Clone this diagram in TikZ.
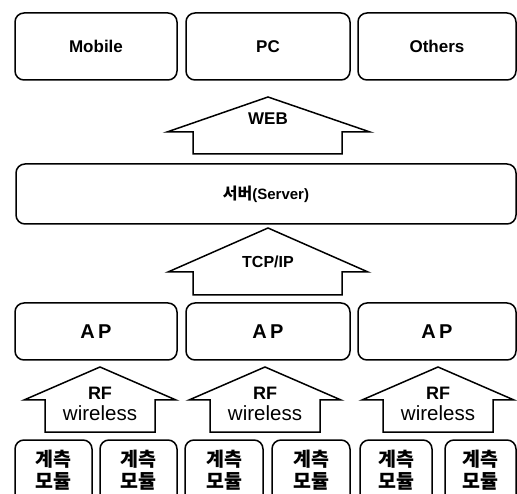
\documentclass[tikz,border=0pt]{standalone}
\usepackage{fontspec}
\setmainfont{Liberation Sans}
\newfontfamily\kr{Noto Sans CJK KR}

\begin{document}
\begin{tikzpicture}[x=1pt,y=-1pt,
  box/.style={draw,line width=1.5pt,rounded corners=9pt,inner sep=0pt},
  blk/.style={draw,line width=1.5pt,line join=miter},
  lab/.style={font=\fontsize{17}{20}\selectfont\bfseries},
  rftext/.style={align=center,inner sep=0pt,font=\fontsize{20.5}{21}\selectfont},
  modtext/.style={align=center,inner sep=0pt,font=\fontsize{19.5}{22}\selectfont\kr\bfseries}]

\useasboundingbox (0,0) rectangle (517,494);
\clip (0,0) rectangle (517,494);

% clients
\node[box,lab,minimum width=162,minimum height=67] (mobile) at (96,46.5) {Mobile};
\node[box,lab,minimum width=164,minimum height=67] (pc) at (268,46.5) {PC};
\node[box,lab,minimum width=158,minimum height=67] (others) at (437,46.5) {Others};

\draw[blk] (268,97) -- (370,132) -- (342,132) -- (342,154) -- (193,154) -- (193,132) -- (167,132) -- cycle;
\node[lab] (web) at (268,119) {WEB};

% server
\node[box,minimum width=500,minimum height=60,font=\fontsize{15}{18}\selectfont\bfseries] (server) at (266,194) {{\kr\fontsize{16}{18}\selectfont 서버}(Server)};

\draw[blk] (268,228) -- (368,272) -- (342,272) -- (342,295) -- (193,295) -- (193,272) -- (168,272) -- cycle;
\node[lab,font=\fontsize{16}{20}\selectfont\bfseries] (tcp) at (268,262) {TCP/IP};

% access points
\node[box,lab,minimum width=162,minimum height=57,font=\fontsize{20}{24}\selectfont\bfseries] (ap1) at (96,331.5) {A\,P};
\node[box,lab,minimum width=164,minimum height=57,font=\fontsize{20}{24}\selectfont\bfseries] (ap2) at (268,331.5) {A\,P};
\node[box,lab,minimum width=158,minimum height=57,font=\fontsize{20}{24}\selectfont\bfseries] (ap3) at (437,331.5) {A\,P};

\foreach \x/\n in {100/1,265/2,438/3} {
  \draw[blk] (\x,367) -- (\x+76,400) -- (\x+55,400) -- (\x+55,432) -- (\x-55,432) -- (\x-55,400) -- (\x-76,400) -- cycle;
  \node[rftext] (rf\n) at (\x,404) {{\fontsize{18}{21}\selectfont\bfseries RF}\\wireless};
}

% modules
\foreach \x/\w/\n in {53.5/77/1,138.5/77/2,224/78/3,311/78/4,396/72/5,480.5/71/6} {
  \node[box,minimum width=\w,minimum height=66] (mod\n) at (\x,473) {};
  \node[modtext] (lbl\n) at ([yshift=3pt]mod\n.center) {계측\\모듈};
}

\end{tikzpicture}
\end{document}
